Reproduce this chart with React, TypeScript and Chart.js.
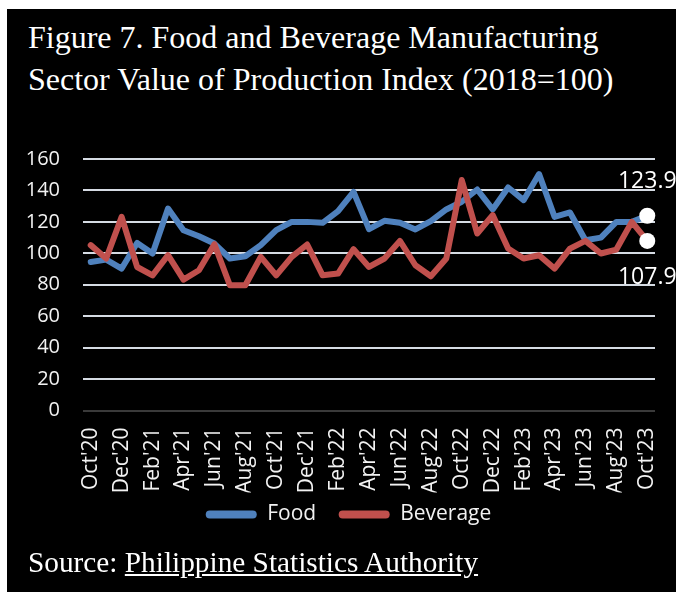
import React, { useEffect, useRef } from "react";
import { Chart, registerables } from "chart.js";

Chart.register(...registerables);

const months: string[] = [
  "Oct'20", "Nov'20", "Dec'20", "Jan'21", "Feb'21", "Mar'21", "Apr'21", "May'21", "Jun'21", "Jul'21",
  "Aug'21", "Sep'21", "Oct'21", "Nov'21", "Dec'21", "Jan'22", "Feb'22", "Mar'22", "Apr'22", "May'22",
  "Jun'22", "Jul'22", "Aug'22", "Sep'22", "Oct'22", "Nov'22", "Dec'22", "Jan'23", "Feb'23", "Mar'23",
  "Apr'23", "May'23", "Jun'23", "Jul'23", "Aug'23", "Sep'23", "Oct'23",
];

const foodValues: number[] = [
  94.5, 96.0, 90.3, 106.6, 99.9, 128.5, 114.7, 110.9, 106.2, 96.7,
  98.1, 105.2, 114.7, 120.0, 120.0, 119.4, 126.8, 139.1, 115.4, 120.7,
  119.4, 115.2, 120.5, 127.9, 132.8, 140.6, 127.9, 141.9, 133.8, 150.4,
  123.2, 126.0, 108.3, 110.0, 120.0, 120.0, 123.9,
];

const beverageValues: number[] = [
  105.2, 96.7, 123.2, 91.3, 86.0, 98.8, 83.3, 89.2, 105.8, 79.7,
  79.7, 97.7, 86.0, 97.7, 105.6, 86.0, 87.1, 102.6, 91.3, 96.7,
  107.9, 92.4, 85.4, 96.7, 146.6, 112.6, 124.3, 103.0, 96.7, 98.8,
  90.3, 103.0, 107.9, 99.9, 102.4, 120.0, 107.9,
];

const seriesNames: string[] = ["Food", "Beverage"];
const seriesColors: string[] = ["#4f81bd", "#c0504d"];
const yTicks: number[] = [0, 20, 40, 60, 80, 100, 120, 140, 160];

const FONT = '"Open Sans", "Noto Sans", sans-serif';

const lastLabelPlugin = {
  id: "lastLabels",
  afterLayout(chart: any) {
    const lg = chart.legend;
    if (lg) {
      lg.left += 10;
      lg.right += 10;
      lg.top -= 11;
      lg.bottom -= 11;
    }
  },
  afterDatasetsDraw(chart: any) {
    const ctx = chart.ctx;
    ctx.save();
    ctx.font = `23px ${FONT}`;
    ctx.fillStyle = "#ffffff";
    ctx.textAlign = "center";
    ctx.textBaseline = "middle";
    const m0 = chart.getDatasetMeta(0);
    const p0 = m0.data[m0.data.length - 1];
    ctx.fillText(foodValues[foodValues.length - 1].toFixed(1), p0.x, p0.y - 34);
    const m1 = chart.getDatasetMeta(1);
    const p1 = m1.data[m1.data.length - 1];
    ctx.fillText(beverageValues[beverageValues.length - 1].toFixed(1), p1.x, p1.y + 37);
    ctx.restore();
  },
};

function ChartView() {
  const ref = useRef<HTMLCanvasElement | null>(null);
  useEffect(() => {
    if (!ref.current) return;
    const last = months.length - 1;
    const mk = (i: number) => ({
      label: seriesNames[i],
      data: i === 0 ? foodValues : beverageValues,
      borderColor: seriesColors[i],
      backgroundColor: seriesColors[i],
      borderWidth: 6,
      tension: 0,
      borderCapStyle: "round" as const,
      borderJoinStyle: "round" as const,
      pointRadius: (c: any) => (c.dataIndex === last ? 8 : 0),
      pointBackgroundColor: "#ffffff",
      pointBorderColor: "#ffffff",
      pointBorderWidth: 0,
      pointHoverRadius: 0,
      order: i === 0 ? 1 : 0,
    });
    const chart = new Chart(ref.current, {
      type: "line",
      data: { labels: months, datasets: [mk(0), mk(1)] },
      plugins: [lastLabelPlugin],
      options: {
        animation: false,
        responsive: false,
        maintainAspectRatio: false,
        layout: { padding: { left: 15, right: 21, top: 19, bottom: 10 } },
        plugins: {
          tooltip: { enabled: false },
          legend: {
            position: "bottom",
            labels: {
              color: "#f2f2f2",
              font: { family: FONT, size: 21 },
              boxWidth: 51,
              boxHeight: 8,
              padding: 22.5,
              useBorderRadius: true,
              borderRadius: 4,
              sort: (a: any, b: any) => a.datasetIndex - b.datasetIndex,
              generateLabels: (ch: any) =>
                ch.data.datasets.map((d: any, i: number) => ({
                  text: d.label,
                  fillStyle: seriesColors[i],
                  strokeStyle: seriesColors[i],
                  lineWidth: 0,
                  fontColor: "#f2f2f2",
                  datasetIndex: i,
                  hidden: false,
                  borderRadius: 4,
                })),
            },
          },
        },
        scales: {
          x: {
            offset: true,
            grid: {
              display: true,
              drawOnChartArea: false,
              drawTicks: true,
              tickLength: 17,
              color: "rgba(0,0,0,0)",
              tickColor: "rgba(0,0,0,0)",
            },
            border: { display: false },
            ticks: {
              autoSkip: false,
              minRotation: 90,
              maxRotation: 90,
              padding: 0,
              color: "#f2f2f2",
              font: { family: FONT, size: 21 },
              callback: (_v: any, i: number) => (i % 2 === 0 ? months[i] : ""),
            },
            afterFit: (s: any) => {
              s.height = 82;
            },
          },
          y: {
            min: yTicks[0],
            max: yTicks[yTicks.length - 1],
            afterBuildTicks: (s: any) => {
              s.ticks = yTicks.map((v) => ({ value: v }));
            },
            grid: {
              drawTicks: true,
              tickLength: 23,
              tickColor: "rgba(0,0,0,0)",
              color: (c: any) => (c.tick && c.tick.value === 0 ? "#3a3a3a" : "#d5dbe3"),
              lineWidth: 2,
            },
            border: { display: false },
            ticks: {
              padding: 0,
              color: "#f2f2f2",
              font: { family: FONT, size: 20 },
            },
            afterFit: (s: any) => {
              s.width = 61;
            },
          },
        },
      },
    });
    return () => chart.destroy();
  }, []);
  return <canvas ref={ref} width={669} height={416} style={{ display: "block" }} />;
}

export default function App() {
  const serif = '"Liberation Serif", "Times New Roman", serif';
  return (
    <div
      style={{
        position: "fixed",
        left: 7,
        top: 9,
        right: 0,
        bottom: 0,
        background: "#000000",
        overflow: "hidden",
      }}
    >
      <div
        style={{
          position: "absolute",
          left: 21,
          top: 7,
          color: "#ffffff",
          fontFamily: serif,
          fontSize: 32,
          lineHeight: "42px",
          whiteSpace: "nowrap",
        }}
      >
        Figure 7. Food and Beverage Manufacturing
        <br />
        Sector Value of Production Index (2018=100)
      </div>
      <div style={{ position: "absolute", left: 0, top: 131 }}>
        <ChartView />
      </div>
      <div
        style={{
          position: "absolute",
          left: 21,
          top: 532,
          color: "#ffffff",
          fontFamily: serif,
          fontSize: 29.3,
          lineHeight: "42px",
          whiteSpace: "nowrap",
        }}
      >
        Source: <span style={{ textDecoration: "underline" }}>Philippine Statistics Authority</span>
      </div>
    </div>
  );
}
